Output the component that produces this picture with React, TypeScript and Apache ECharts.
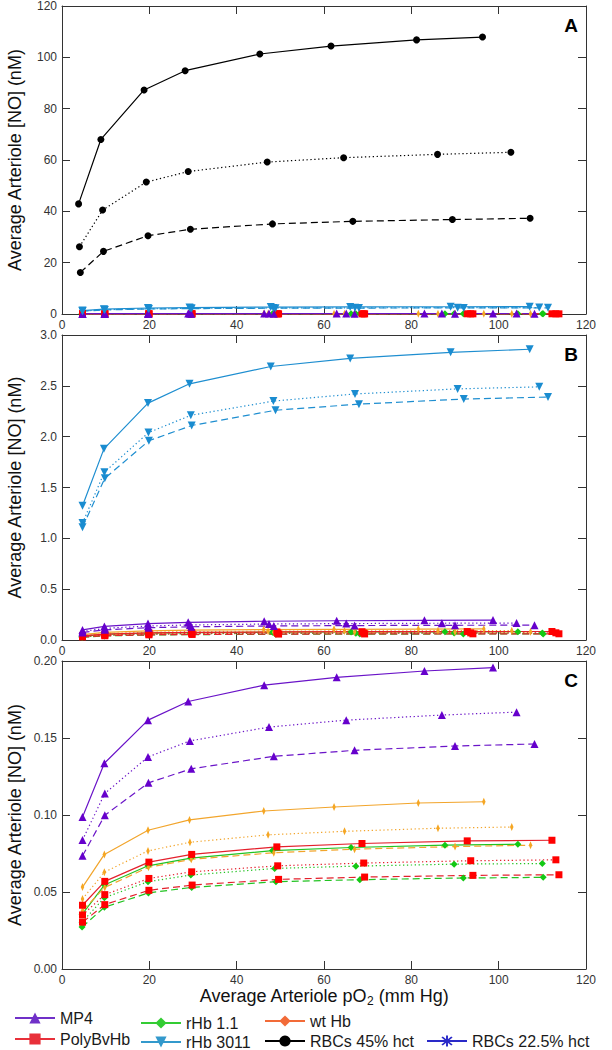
import React, { useEffect, useRef } from 'react';
import * as echarts from 'echarts';

const FONT = '"Liberation Sans", Arial, Helvetica, sans-serif';

// ---- axes ----
const X_MIN = 0;
const X_MAX = 120;
const X_STEP = 20;
const PANEL_LETTERS = ['A', 'B', 'C'];
const Y_MAX = [120, 3.0, 0.2];
const Y_STEP = [20, 0.5, 0.05];
const Y_DECIMALS = [0, 1, 2];

// ---- RBCs 45% hct ----
const RBC45_SOLID_X = [3.8, 8.9, 18.8, 28.2, 45.3, 61.6, 81.2, 96.3];
const RBC45_SOLID_Y = [42.9, 68.0, 87.3, 94.8, 101.3, 104.4, 106.8, 107.9];
const RBC45_DOTTED_X = [4.0, 9.3, 19.3, 28.9, 47.0, 64.5, 86.0, 102.8];
const RBC45_DOTTED_Y = [26.2, 40.5, 51.4, 55.5, 59.2, 60.9, 62.2, 63.0];
const RBC45_DASHED_X = [4.2, 9.5, 19.7, 29.4, 48.2, 66.6, 89.4, 107.2];
const RBC45_DASHED_Y = [16.2, 24.4, 30.5, 33.0, 35.1, 36.1, 36.8, 37.3];

// ---- rHb 3011 ----
const RHB3011_SOLID_X = [4.7, 9.6, 19.7, 29.2, 47.8, 66.0, 89.0, 107.1];
const RHB3011_SOLID_Y = [1.32, 1.88, 2.33, 2.52, 2.69, 2.77, 2.83, 2.86];
const RHB3011_DOTTED_X = [4.7, 9.7, 19.8, 29.5, 48.4, 67.1, 90.6, 109.3];
const RHB3011_DOTTED_Y = [1.15, 1.65, 2.04, 2.21, 2.35, 2.42, 2.47, 2.49];
const RHB3011_DASHED_X = [4.7, 9.8, 19.9, 29.7, 48.9, 68.0, 92.0, 111.3];
const RHB3011_DASHED_Y = [1.11, 1.59, 1.96, 2.11, 2.26, 2.32, 2.37, 2.39];

// ---- MP4 ----
const MP4_SOLID_X = [4.7, 9.7, 19.7, 28.9, 46.3, 62.9, 83.0, 98.7];
const MP4_SOLID_Y = [0.0987, 0.1336, 0.1616, 0.1737, 0.1843, 0.1894, 0.1935, 0.1957];
const MP4_DOTTED_X = [4.7, 9.8, 19.7, 29.3, 47.4, 65.1, 87.0, 104.1];
const MP4_DOTTED_Y = [0.0838, 0.114, 0.1377, 0.1481, 0.1571, 0.1616, 0.1649, 0.1668];
const MP4_DASHED_X = [4.7, 9.8, 19.8, 29.6, 48.5, 67.0, 90.0, 108.2];
const MP4_DASHED_Y = [0.0735, 0.0998, 0.1209, 0.13, 0.1381, 0.142, 0.1448, 0.1461];

// ---- wt Hb ----
const WTHB_SOLID_X = [4.7, 9.7, 19.7, 29.2, 46.2, 62.3, 81.6, 96.6];
const WTHB_SOLID_Y = [0.0532, 0.0744, 0.0901, 0.0968, 0.1026, 0.1052, 0.1078, 0.1086];
const WTHB_DOTTED_X = [4.7, 9.7, 19.7, 29.3, 47.2, 64.7, 86.1, 103.0];
const WTHB_DOTTED_Y = [0.0455, 0.0629, 0.0767, 0.0823, 0.0871, 0.0894, 0.0914, 0.0922];
const WTHB_DASHED_X = [4.7, 9.8, 19.8, 29.6, 48.5, 67.0, 90.0, 107.3];
const WTHB_DASHED_Y = [0.038, 0.053, 0.066, 0.0712, 0.0755, 0.0778, 0.0795, 0.0804];

// ---- PolyBvHb ----
const POLY_SOLID_X = [4.7, 9.8, 19.9, 29.7, 49.2, 68.7, 92.8, 112.2];
const POLY_SOLID_Y = [0.0414, 0.0569, 0.0694, 0.0744, 0.0793, 0.0815, 0.0832, 0.0836];
const POLY_DOTTED_X = [4.7, 9.8, 19.9, 29.7, 49.4, 69.1, 93.6, 113.1];
const POLY_DOTTED_Y = [0.0351, 0.0483, 0.0588, 0.0631, 0.067, 0.0688, 0.0703, 0.0709];
const POLY_DASHED_X = [4.7, 9.8, 19.9, 29.8, 49.6, 69.3, 94.1, 113.8];
const POLY_DASHED_Y = [0.0304, 0.0418, 0.0511, 0.0545, 0.0582, 0.0597, 0.0608, 0.0612];

// ---- rHb 1.1 ----
const RHB11_SOLID_X = [4.6, 9.7, 19.7, 29.5, 48.2, 66.2, 87.7, 104.4];
const RHB11_SOLID_Y = [0.0355, 0.0545, 0.067, 0.072, 0.0769, 0.0789, 0.0804, 0.081];
const RHB11_DOTTED_X = [4.6, 9.7, 19.7, 29.5, 48.7, 67.3, 89.8, 110.0];
const RHB11_DOTTED_Y = [0.0304, 0.0463, 0.0567, 0.061, 0.0653, 0.0668, 0.0681, 0.0685];
const RHB11_DASHED_X = [4.6, 9.7, 19.8, 29.7, 49.0, 68.2, 91.9, 110.2];
const RHB11_DASHED_Y = [0.0272, 0.0401, 0.0494, 0.053, 0.0567, 0.058, 0.0591, 0.0595];

const THIN_DIAMOND = 'path://M0,-4L1.2,0L0,4L-1.2,0Z';
const ASTERISK =
  'path://M-0.7,-5L0.7,-5L0.7,5L-0.7,5Z' +
  'M3.04,-4.03L4.03,-3.04L-3.04,4.03L-4.03,3.04Z' +
  'M4.03,3.04L3.04,4.03L-4.03,-3.04L-3.04,-4.03Z';

const STYLES = ['solid', 'dotted', 'dashed'];
const DASH: Record<string, any> = { solid: 'solid', dotted: [1.3, 2.6], dashed: [7, 4] };

const COMPOUNDS = [
  {
    name: 'rHb 1.1', color: '#22C322', marker: '#14C814', legendColor: '#33CC33',
    symbol: 'diamond', size: 7, rotate: 0,
    xs: [RHB11_SOLID_X, RHB11_DOTTED_X, RHB11_DASHED_X], ys: [RHB11_SOLID_Y, RHB11_DOTTED_Y, RHB11_DASHED_Y],
  },
  {
    name: 'wt Hb', color: '#F2A52C', marker: '#F5A623', legendColor: '#F26B38',
    symbol: THIN_DIAMOND, size: [3.5, 8], rotate: 0,
    xs: [WTHB_SOLID_X, WTHB_DOTTED_X, WTHB_DASHED_X], ys: [WTHB_SOLID_Y, WTHB_DOTTED_Y, WTHB_DASHED_Y],
  },
  {
    name: 'PolyBvHb', color: '#E4202C', marker: '#FF0000', legendColor: '#E8303A',
    symbol: 'rect', size: 7, rotate: 0,
    xs: [POLY_SOLID_X, POLY_DOTTED_X, POLY_DASHED_X], ys: [POLY_SOLID_Y, POLY_DOTTED_Y, POLY_DASHED_Y],
  },
  {
    name: 'MP4', color: '#6A14C8', marker: '#6600CC', legendColor: '#7030C8',
    symbol: 'triangle', size: 8, rotate: 0,
    xs: [MP4_SOLID_X, MP4_DOTTED_X, MP4_DASHED_X], ys: [MP4_SOLID_Y, MP4_DOTTED_Y, MP4_DASHED_Y],
  },
  {
    name: 'rHb 3011', color: '#1E8ED0', marker: '#1A8CD0', legendColor: '#3399CC',
    symbol: 'triangle', size: 8, rotate: 180,
    xs: [RHB3011_SOLID_X, RHB3011_DOTTED_X, RHB3011_DASHED_X], ys: [RHB3011_SOLID_Y, RHB3011_DOTTED_Y, RHB3011_DASHED_Y],
  },
  {
    name: 'RBCs 45% hct', color: '#000000', marker: '#000000', legendColor: '#000000',
    symbol: 'circle', size: 7, rotate: 0,
    xs: [RBC45_SOLID_X, RBC45_DOTTED_X, RBC45_DASHED_X], ys: [RBC45_SOLID_Y, RBC45_DOTTED_Y, RBC45_DASHED_Y],
  },
];

const RBC225 = { name: 'RBCs 22.5% hct', color: '#2424C8', legendColor: '#2A2AC8' };

const GRIDS = [
  { top: 6, height: 308 },
  { top: 335, height: 305 },
  { top: 661, height: 308 },
];
const GRID_LEFT = 62;
const GRID_WIDTH = 524;

export default function App() {
  const ref = useRef<HTMLDivElement>(null);

  useEffect(() => {
    document.body.style.margin = '0';
    if (!ref.current) return;
    const chart = echarts.init(ref.current, null, { renderer: 'svg' });

    const axisColor = '#333333';
    const xAxes: any[] = [];
    const yAxes: any[] = [];
    GRIDS.forEach((_, p) => {
      const common = {
        type: 'value',
        gridIndex: p,
        splitLine: { show: false },
        axisLine: { show: true, onZero: false, lineStyle: { color: axisColor, width: 1 } },
        axisTick: { show: true, inside: true, length: 8, lineStyle: { color: axisColor, width: 1 } },
      };
      xAxes.push({
        ...common, position: 'bottom', min: X_MIN, max: X_MAX, interval: X_STEP,
        axisLabel: { show: true, margin: 5, fontSize: 12, color: '#333', fontFamily: FONT },
      });
      xAxes.push({
        ...common, position: 'top', min: X_MIN, max: X_MAX, interval: X_STEP,
        axisLabel: { show: false },
      });
      yAxes.push({
        ...common, position: 'left', min: 0, max: Y_MAX[p], interval: Y_STEP[p],
        axisLabel: {
          show: true, margin: 5, fontSize: 12, color: '#333', fontFamily: FONT,
          formatter: (v: number) => v.toFixed(Y_DECIMALS[p]),
        },
      });
      yAxes.push({
        ...common, position: 'right', min: 0, max: Y_MAX[p], interval: Y_STEP[p],
        axisLabel: { show: false },
      });
    });

    const series: any[] = [];
    GRIDS.forEach((_, p) => {
      COMPOUNDS.forEach((c) => {
        STYLES.forEach((st, si) => {
          const xs = c.xs[si];
          const ys = c.ys[si];
          series.push({
            type: 'line',
            name: st === 'solid' && p === 0 ? c.name : `${c.name} ${st} ${p}`,
            xAxisIndex: p * 2,
            yAxisIndex: p * 2,
            data: xs.map((x, i) => [x, ys[i]]),
            symbol: c.symbol,
            symbolSize: c.size,
            symbolRotate: c.rotate,
            showSymbol: true,
            clip: true,
            lineStyle: { color: c.color, width: 1.2, type: DASH[st] },
            itemStyle: { color: c.marker },
            emphasis: { disabled: true },
          });
        });
      });
    });
    series.push({
      type: 'line',
      name: RBC225.name,
      xAxisIndex: 0,
      yAxisIndex: 0,
      data: [],
      symbol: ASTERISK,
      symbolSize: 10,
      lineStyle: { color: RBC225.color, width: 1.2 },
      itemStyle: { color: RBC225.color },
    });

    const legendItem = (name: string, color: string) => ({
      name,
      itemStyle: { color },
      lineStyle: { color, width: 2, type: 'solid' },
    });
    const legendBase = {
      orient: 'vertical',
      itemWidth: 40,
      itemHeight: 14,
      padding: 0,
      selectedMode: false,
      textStyle: { fontSize: 16, fontFamily: FONT, color: '#1a1a1a' },
    };
    const byName = (n: string) => COMPOUNDS.find((c) => c.name === n)!;

    const graphic: any[] = [];
    GRIDS.forEach((g, p) => {
      graphic.push({
        type: 'text',
        x: 15,
        y: g.top + g.height / 2,
        rotation: Math.PI / 2,
        style: {
          text: 'Average Arteriole [NO] (nM)',
          fontSize: 18,
          fontFamily: FONT,
          fill: '#111',
          align: 'center',
          verticalAlign: 'middle',
        },
      });
      graphic.push({
        type: 'text',
        x: 571,
        y: g.top + 19,
        style: {
          text: PANEL_LETTERS[p],
          fontSize: 19,
          fontWeight: 'bold',
          fontFamily: FONT,
          fill: '#000',
          align: 'center',
          verticalAlign: 'middle',
        },
      });
    });
    graphic.push({
      type: 'text',
      x: GRID_LEFT + GRID_WIDTH / 2,
      y: 996,
      style: {
        text: '{a|Average Arteriole pO}{s|2}{a| (mm Hg)}',
        align: 'center',
        verticalAlign: 'middle',
        fontFamily: FONT,
        fill: '#111',
        rich: {
          a: { fontSize: 18, lineHeight: 22, fontFamily: FONT, fill: '#111' },
          s: { fontSize: 12, lineHeight: 10, verticalAlign: 'bottom', fontFamily: FONT, fill: '#111' },
        },
      },
    });

    chart.setOption({
      animation: false,
      backgroundColor: '#ffffff',
      grid: GRIDS.map((g) => ({ left: GRID_LEFT, width: GRID_WIDTH, top: g.top, height: g.height, containLabel: false })),
      xAxis: xAxes,
      yAxis: yAxes,
      legend: [
        {
          ...legendBase, left: 14, top: 1010, itemGap: 5,
          data: [legendItem('MP4', byName('MP4').legendColor), legendItem('PolyBvHb', byName('PolyBvHb').legendColor)],
        },
        {
          ...legendBase, left: 140, top: 1015, itemGap: 3,
          data: [legendItem('rHb 1.1', byName('rHb 1.1').legendColor), legendItem('rHb 3011', byName('rHb 3011').legendColor)],
        },
        {
          ...legendBase, left: 264, top: 1013, itemGap: 4,
          data: [legendItem('wt Hb', byName('wt Hb').legendColor), legendItem('RBCs 45% hct', byName('RBCs 45% hct').legendColor)],
        },
        {
          ...legendBase, left: 426, top: 1033, itemGap: 4,
          data: [legendItem(RBC225.name, RBC225.legendColor)],
        },
      ],
      graphic,
      series,
    });

    return () => {
      chart.dispose();
    };
  }, []);

  return <div ref={ref} style={{ width: 612, height: 1050 }} />;
}
